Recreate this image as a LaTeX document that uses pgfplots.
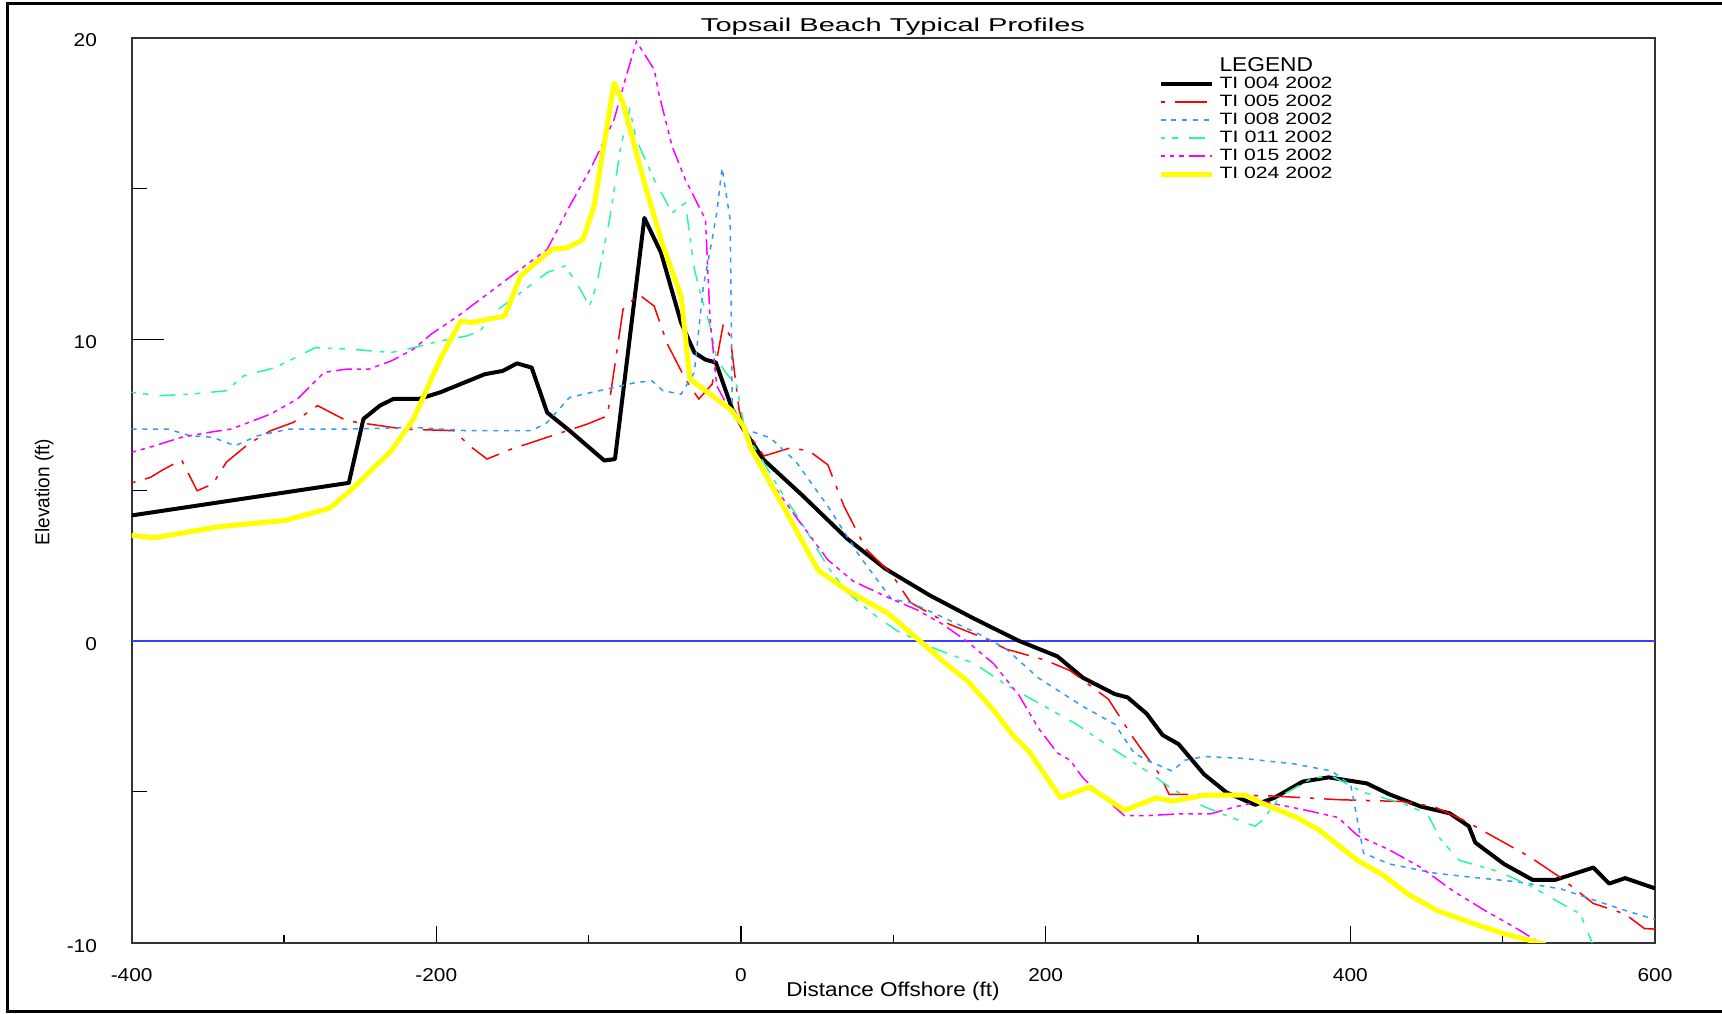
\documentclass[border=0pt]{standalone}
\usepackage{fontspec}
\setmainfont{Liberation Sans}
\usepackage{graphicx}
\usepackage{pgfplots}
\pgfplotsset{compat=1.18}
\newcommand{\wt}[2]{\resizebox{#1}{\height}{#2}}
\newcommand{\tl}[1]{\scalebox{1.12}[1]{#1}}
\definecolor{cred}{RGB}{255,0,0}
\definecolor{cblue}{RGB}{51,153,255}
\definecolor{cgreen}{RGB}{40,250,150}
\definecolor{cmag}{RGB}{255,0,255}
\definecolor{cyel}{RGB}{255,255,0}
\definecolor{czero}{RGB}{60,60,255}
\begin{document}
\begin{tikzpicture}
\begin{axis}[
  at={(0,0)}, anchor=south west,
  scale only axis, width=761.7pt, height=452.6pt,
  xmin=-400, xmax=600, ymin=-10, ymax=20,
  axis line style={line width=1pt, black!80},
  xtick={-400,-200,0,200,400,600},
  xticklabels={\tl{-400},\tl{-200},\tl{0},\tl{200},\tl{400},\tl{600}},
  minor xtick={-300,-100,100,300,500},
  xtick pos=bottom, ytick pos=left, tick align=inside,
  major tick length=8.3pt, minor tick length=3.9pt,
  xtick style={black, line width=0.6pt},
  ytick={-10,0,10,20},
  yticklabels={\tl{-10},\tl{0},\tl{10},\tl{20}},
  ytick style={draw=none},
  xticklabel style={anchor=base, inner sep=0pt, yshift=-19.5pt, font=\fontsize{9.3}{11}\selectfont},
  yticklabel style={anchor=east, inner sep=0pt, xshift=-17.15pt, yshift=-1.5pt, font=\fontsize{9.3}{11}\selectfont},
  legend cell align=left,
  legend style={draw=none, fill=none, at={(0.67381,0.97845)}, anchor=north west,
    inner sep=0pt, outer sep=0pt, row sep=0pt, column sep=2.3pt,
    nodes={inner sep=0pt, minimum height=9pt},
    font=\fontsize{8.2}{9}\selectfont},
  legend image code/.code={\draw[#1] (0pt,0pt) -- (25.9pt,0pt);},
]
\addplot[czero, line width=1pt, forget plot] coordinates {(-400,0) (600,0)};
\addlegendimage{empty legend}
\addlegendentry{\fontsize{10}{11}\selectfont\wt{46.8pt}{LEGEND}}

\addplot[black, line width=2pt, line join=round] coordinates {
(-400,4.16) (-257.4,5.24) (-247.8,7.36) (-237,7.8) (-228.2,8.02) (-211.5,8.02) (-197.4,8.24) (-168.2,8.84) (-156.4,8.95) (-147,9.2) (-137.4,9.06) (-127.2,7.57) (-112.5,6.97) (-89.7,5.98) (-82.7,6.03) (-63.4,14.02) (-52.5,12.87) (-39.3,10.55) (-30.6,9.56) (-23.2,9.32) (-16.5,9.23) (-5.7,7.68) (1.6,7.02) (15,6.0) (40.2,4.83) (69.5,3.40) (94.6,2.40) (124,1.51) (153,0.74) (182.6,0) (207.7,-0.51) (224.5,-1.22) (245.4,-1.76) (253.8,-1.87) (266.3,-2.41) (276.8,-3.12) (287.3,-3.42) (304,-4.42) (318.7,-5.02) (337.5,-5.43) (350,-5.2) (368.8,-4.66) (385.7,-4.52) (410.8,-4.72) (425.5,-5.08) (446.4,-5.49) (465.2,-5.71) (477.8,-6.14) (482,-6.68) (500.8,-7.39) (519.7,-7.92) (534.3,-7.92) (559.5,-7.51) (569.9,-8.04) (580.4,-7.86) (600,-8.2)};
\addlegendentry{\wt{56.5pt}{TI 004 2002}}

\addplot[cred, line width=0.75pt, dash pattern=on 2pt off 5pt on 16pt off 5pt] coordinates {
(-400,5.24) (-387.7,5.42) (-378.9,5.69) (-367.2,6.0) (-357,4.98) (-346.7,5.2) (-337.9,5.92) (-323.3,6.53) (-308.7,6.97) (-294,7.24) (-277.9,7.8) (-258.9,7.3) (-244.3,7.19) (-220.8,7.02) (-188.6,6.97) (-176.9,6.42) (-166.7,6.03) (-150.6,6.36) (-127.2,6.75) (-100.8,7.19) (-87.7,7.46) (-77.4,10.99) (-67.2,11.49) (-57,11.1) (-48.2,9.83) (-36.5,8.68) (-27.7,8.02) (-18.9,8.51) (-11.6,10.5) (-7.1,10.1) (-1.3,7.68) (1.6,7.13) (15,6.13) (31.8,6.39) (44.4,6.31) (57,5.84) (67.6,4.47) (82,3.05) (98.8,2.22) (111.4,1.27) (136.5,0.56) (157.4,0.14) (174.2,-0.27) (199.4,-0.63) (216,-0.98) (241.2,-1.93) (257.9,-3.24) (274.7,-4.42) (281,-5.08) (308.2,-5.08) (350,-5.14) (392,-5.26) (433.8,-5.32) (454.8,-5.49) (475.7,-5.97) (496.6,-6.56) (517.6,-7.15) (538.5,-7.86) (559.5,-8.7) (580.4,-9.05) (593,-9.53) (600,-9.55)};
\addlegendentry{\wt{56.5pt}{TI 005 2002}}

\addplot[cblue, line width=0.75pt, dash pattern=on 2.5pt off 2.9pt] coordinates {
(-400,7.02) (-376,7.02) (-361.4,6.8) (-346.7,6.75) (-332,6.47) (-317.4,6.8) (-296.9,7.02) (-258.9,7.02) (-215,7.08) (-179.9,6.97) (-137.4,6.97) (-127.2,7.24) (-112.5,8.07) (-97.9,8.24) (-83.3,8.40) (-68.6,8.57) (-58.4,8.62) (-51.1,8.29) (-39.3,8.18) (-30.6,8.9) (-24.7,11.76) (-18.9,13.31) (-15.9,14.19) (-12.4,15.68) (-7.1,13.97) (-5.7,7.8) (-1.3,7.24) (2.5,7.02) (19.3,6.73) (36,5.95) (57,4.47) (77.9,2.81) (98.8,1.39) (111.4,1.27) (132.3,0.79) (157.4,0.2) (174.2,-0.27) (195.1,-1.22) (224.5,-2.17) (245.4,-2.76) (258,-3.71) (266.3,-3.95) (283,-4.31) (291.5,-3.95) (304,-3.83) (329.1,-3.89) (362.6,-4.07) (387.8,-4.31) (400.3,-4.78) (408.7,-7.03) (425.5,-7.39) (454.8,-7.69) (475.7,-7.81) (509.2,-7.98) (538.5,-8.22) (559.5,-8.58) (580.4,-8.93) (600,-9.23)};
\addlegendentry{\wt{56.5pt}{TI 008 2002}}

\addplot[cgreen, line width=0.75pt, dash pattern=on 2.2pt off 3.5pt on 2.8pt off 5.5pt on 8pt off 4pt] coordinates {
(-400,8.24) (-381.9,8.13) (-361.4,8.18) (-338,8.29) (-326.3,8.79) (-305.8,9.06) (-279.4,9.72) (-256,9.67) (-229.6,9.56) (-215,9.72) (-197.4,9.94) (-179.9,10.11) (-171.1,10.28) (-162.3,10.88) (-144.7,11.54) (-127.2,12.21) (-115.5,12.43) (-106.7,11.76) (-99.4,11.1) (-95,11.76) (-86.2,13.97) (-78.9,16.39) (-73,17.61) (-68.6,16.61) (-56.9,15.29) (-45.2,14.19) (-36.5,14.52) (-30.6,12.32) (-26.2,11.43) (-20.3,10.44) (-15.9,9.34) (-10.1,8.9) (-2.8,8.46) (1.6,7.24) (6.7,6.61) (23.5,5.18) (40.2,3.88) (57,2.46) (69.5,1.63) (86.3,0.91) (103,0.32) (128.2,-0.27) (153.3,-0.75) (174.2,-1.46) (195.1,-2.05) (220.3,-2.76) (241.2,-3.48) (266.3,-4.31) (283,-4.9) (304,-5.49) (325,-5.91) (337.5,-6.14) (341.7,-5.97) (354.3,-5.14) (375.2,-4.54) (387.8,-4.48) (408.7,-5.02) (433.8,-5.37) (450.6,-5.73) (459,-6.56) (471.5,-7.27) (496.6,-7.63) (517.6,-8.1) (534.3,-8.58) (551,-9.05) (559.5,-10.1)};
\addlegendentry{\wt{56.5pt}{TI 011 2002}}

\addplot[cmag, line width=0.75pt, dash pattern=on 2.2pt off 2.5pt on 2.2pt off 2.5pt on 2.2pt off 2.5pt on 8pt off 2.5pt] coordinates {
(-400,6.25) (-384.8,6.47) (-367.2,6.75) (-349.6,6.91) (-335,7.02) (-323.3,7.24) (-308.7,7.52) (-291.1,8.02) (-273.6,8.9) (-259,9.01) (-244.3,9.01) (-229.6,9.28) (-215,9.67) (-203.3,10.17) (-185.7,10.77) (-168.2,11.43) (-147.7,12.21) (-127.2,12.98) (-112.5,14.41) (-97.9,15.73) (-83.3,17.28) (-76,18.6) (-68.6,19.87) (-56.9,18.93) (-54,18.16) (-45.2,16.39) (-36.5,15.29) (-27.7,14.41) (-23.3,13.97) (-20.3,10.66) (-15.9,8.46) (-10.1,7.91) (-1.3,7.35) (6.7,6.49) (19.3,5.3) (36,4.12) (57,2.69) (73.7,1.98) (98.8,1.39) (115.6,1.03) (132.3,0.56) (149,-0.04) (165.8,-0.75) (182.6,-1.81) (195.1,-2.88) (207.7,-3.71) (216,-3.95) (224.5,-4.54) (237,-5.14) (251.7,-5.79) (266.3,-5.79) (287.3,-5.73) (308.2,-5.73) (325,-5.49) (341.7,-5.31) (371,-5.61) (392,-5.85) (404.5,-6.44) (425.5,-6.92) (446.4,-7.51) (467.3,-8.28) (488.3,-8.93) (509.2,-9.53) (525.9,-10.05)};
\addlegendentry{\wt{56.5pt}{TI 015 2002}}

\addplot[cyel, line width=2.5pt, line join=round] coordinates {
(-400,3.5) (-385,3.42) (-342,3.79) (-299,4.0) (-270,4.4) (-256,5.0) (-229.6,6.3) (-215,7.35) (-197.4,9.34) (-184,10.6) (-176.9,10.55) (-155,10.77) (-144.7,12.1) (-124.2,12.98) (-114,13.03) (-103.7,13.3) (-96.4,14.41) (-83.3,18.5) (-77.4,17.83) (-62.8,15.07) (-51.1,13.09) (-39.3,11.43) (-33.5,8.68) (-18.9,8.13) (-7.1,7.68) (1.6,7.13) (6.7,6.37) (27.6,4.47) (50.7,2.34) (69.5,1.68) (96.7,0.91) (115.6,0.08) (134.4,-0.75) (149,-1.34) (165.8,-2.29) (178.4,-3.12) (188.9,-3.65) (209.8,-5.2) (228.6,-4.84) (251.7,-5.61) (272.6,-5.2) (283,-5.31) (304,-5.11) (331.2,-5.11) (341.7,-5.37) (364.7,-5.85) (379.4,-6.26) (404.5,-7.27) (421.3,-7.75) (438,-8.4) (456.9,-8.93) (479.9,-9.35) (500.8,-9.7) (528,-10.06)};
\addlegendentry{\wt{56.5pt}{TI 024 2002}}

\draw[black, line width=0.6pt] (axis cs:-400,10) -- ++(16pt,0pt);
\draw[black, line width=0.6pt] (axis cs:-400,15) -- ++(7.8pt,0pt);
\draw[black, line width=0.6pt] (axis cs:-400,5) -- ++(7.8pt,0pt);
\draw[black, line width=0.6pt] (axis cs:-400,-5) -- ++(7.8pt,0pt);
\end{axis}
\node[anchor=base, inner sep=0pt, font=\fontsize{9.3}{11}\selectfont] at (380.7pt,455.5pt) {\wt{192pt}{Topsail Beach Typical Profiles}};
\node[anchor=base, inner sep=0pt, font=\fontsize{10}{12}\selectfont] at (380.7pt,-27pt) {\wt{106.7pt}{Distance Offshore (ft)}};
\node[rotate=90, anchor=base, inner sep=0pt, font=\fontsize{10}{12}\selectfont] at (-41.15pt,225.35pt) {\wt{53.3pt}{Elevation (ft)}};
\draw[line width=1.5pt] (795.2pt,469.35pt) -- (-61.8pt,469.35pt) -- (-61.8pt,-34.15pt) -- (795.2pt,-34.15pt);
\pgfresetboundingbox
\useasboundingbox (-65.8pt,-35.15pt) rectangle (795.2pt,471.35pt);
\end{tikzpicture}
\end{document}
